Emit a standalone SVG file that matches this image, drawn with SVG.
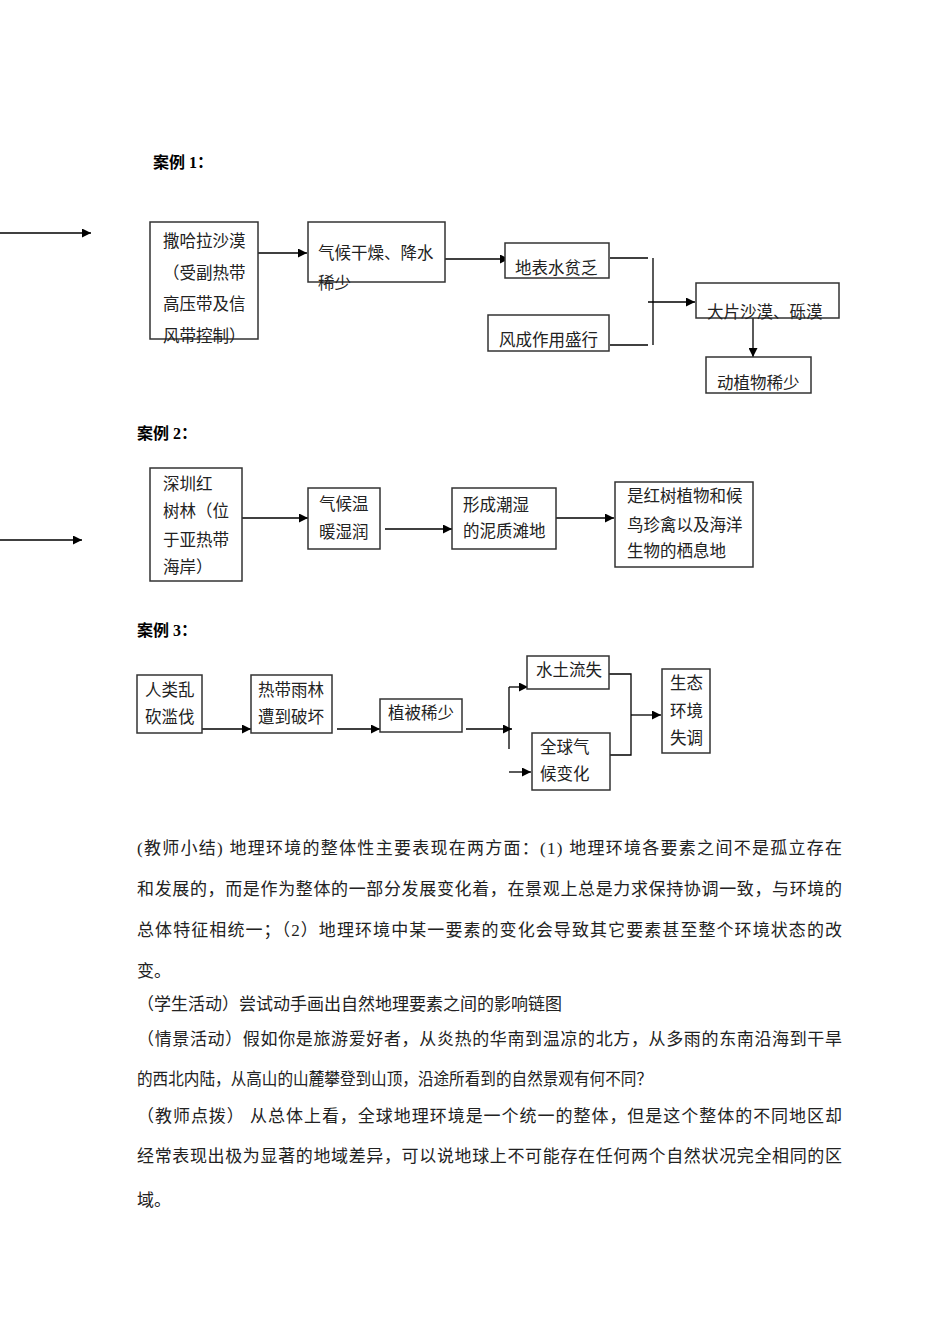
<svg xmlns="http://www.w3.org/2000/svg" width="950" height="1344" viewBox="0 0 950 1344">
<defs>
<marker id="ah" viewBox="0 0 10 10" refX="10" refY="5" markerWidth="11" markerHeight="9" markerUnits="userSpaceOnUse" orient="auto"><path d="M0,0 L10,5 L0,10 z" fill="#000"/></marker>
<style>
text{font-family:"Liberation Serif","Noto Sans CJK SC",serif;font-size:16.5px;fill:#222}
.h{font-weight:bold;font-size:16px;fill:#000}
.p{font-size:17px}
rect{fill:#fff;stroke:#333;stroke-width:1.5}
.c line,.c polyline{stroke:#000;stroke-width:1.3;fill:none}
.a{marker-end:url(#ah)}
</style>
</defs>
<rect x="0" y="0" width="950" height="1344" style="fill:#fff;stroke:none"/>

<text class="h" x="153" y="168">案例 1：</text>
<text class="h" x="137" y="439">案例 2：</text>
<text class="h" x="137" y="636">案例 3：</text>

<g class="c" id="connectors">
<line class="a" x1="0" y1="233" x2="91" y2="233"/>
<line class="a" x1="250" y1="253" x2="307" y2="253"/>
<line class="a" x1="440" y1="259" x2="509" y2="259"/>
<line x1="610" y1="258" x2="648" y2="258"/>
<line x1="610" y1="345" x2="648" y2="345"/>
<line x1="653" y1="258" x2="653" y2="345"/>
<line class="a" x1="648" y1="302" x2="695" y2="302"/>
<line class="a" x1="753" y1="310" x2="753" y2="357"/>

<line class="a" x1="0" y1="540" x2="82" y2="540"/>
<line class="a" x1="242" y1="518" x2="308" y2="518"/>
<line class="a" x1="385" y1="529" x2="452" y2="529"/>
<line class="a" x1="553" y1="518" x2="614" y2="518"/>

<line class="a" x1="202" y1="729" x2="251" y2="729"/>
<line class="a" x1="337" y1="729" x2="380" y2="729"/>
<line class="a" x1="466" y1="729" x2="512" y2="729"/>
<line x1="509" y1="749" x2="509" y2="687"/>
<line class="a" x1="509" y1="687" x2="528" y2="687"/>
<line class="a" x1="509" y1="772" x2="531" y2="772"/>
<polyline points="609,674 631,674 631,755 610,755"/>
<line class="a" x1="631" y1="715" x2="661" y2="715"/>
</g>

<g id="n-sahara"><rect x="150" y="222" width="108" height="117"/>
<text x="163" y="247">撒哈拉沙漠</text><text x="163" y="279">（受副热带</text><text x="163" y="310">高压带及信</text><text x="163" y="342">风带控制）</text></g>
<g id="n-climate1"><rect x="308" y="222" width="137" height="60"/>
<text x="318" y="259">气候干燥、降水</text><text x="318" y="289">稀少</text></g>
<g id="n-water"><rect x="505" y="243" width="104" height="35"/>
<text x="515" y="274">地表水贫乏</text></g>
<g id="n-wind"><rect x="488" y="315" width="121" height="36"/>
<text x="499" y="346">风成作用盛行</text></g>
<g id="n-desert"><rect x="696" y="283" width="143" height="35"/>
<text x="707" y="318">大片沙漠、砾漠</text></g>
<g id="n-fauna"><rect x="706" y="357" width="105" height="36"/>
<text x="717" y="389">动植物稀少</text></g>

<g id="n-mangrove"><rect x="150" y="468" width="92" height="113"/>
<text x="163" y="490">深圳红</text><text x="163" y="517">树林（位</text><text x="163" y="546">于亚热带</text><text x="163" y="573">海岸）</text></g>
<g id="n-climate2"><rect x="308" y="488" width="72" height="61"/>
<text x="319" y="510">气候温</text><text x="319" y="538">暖湿润</text></g>
<g id="n-mudflat"><rect x="452" y="488" width="104" height="61"/>
<text x="463" y="511">形成潮湿</text><text x="463" y="537">的泥质滩地</text></g>
<g id="n-habitat"><rect x="615" y="482" width="138" height="85"/>
<text x="627" y="502">是红树植物和候</text><text x="627" y="531">鸟珍禽以及海洋</text><text x="627" y="557">生物的栖息地</text></g>

<g id="n-logging"><rect x="137" y="675" width="65" height="58"/>
<text x="145" y="696">人类乱</text><text x="145" y="723">砍滥伐</text></g>
<g id="n-rainforest"><rect x="251" y="675" width="81" height="58"/>
<text x="258" y="696">热带雨林</text><text x="258" y="723">遭到破坏</text></g>
<g id="n-vegetation"><rect x="380" y="699" width="82" height="33"/>
<text x="388" y="719">植被稀少</text></g>
<g id="n-erosion"><rect x="527" y="656" width="82" height="33"/>
<text x="536" y="676">水土流失</text></g>
<g id="n-globalclimate"><rect x="532" y="733" width="78" height="57"/>
<text x="540" y="753">全球气</text><text x="540" y="780">候变化</text></g>
<g id="n-eco"><rect x="662" y="669" width="48" height="84"/>
<text x="670" y="689">生态</text><text x="670" y="717">环境</text><text x="670" y="744">失调</text></g>

<g id="paragraphs">
<text class="p" x="137" y="854" textLength="705" lengthAdjust="spacing">(教师小结) 地理环境的整体性主要表现在两方面：(1) 地理环境各要素之间不是孤立存在</text>
<text class="p" x="137" y="895" textLength="705" lengthAdjust="spacing">和发展的，而是作为整体的一部分发展变化着，在景观上总是力求保持协调一致，与环境的</text>
<text class="p" x="137" y="936" textLength="705" lengthAdjust="spacing">总体特征相统一；（2）地理环境中某一要素的变化会导致其它要素甚至整个环境状态的改</text>
<text class="p" x="137" y="977">变。</text>
<text class="p" x="137" y="1010">（学生活动）尝试动手画出自然地理要素之间的影响链图</text>
<text class="p" x="137" y="1045" textLength="705" lengthAdjust="spacing">（情景活动）假如你是旅游爱好者，从炎热的华南到温凉的北方，从多雨的东南沿海到干旱</text>
<text class="p" x="137" y="1085" textLength="515" lengthAdjust="spacingAndGlyphs">的西北内陆，从高山的山麓攀登到山顶，沿途所看到的自然景观有何不同？</text>
<text class="p" x="137" y="1122" textLength="705" lengthAdjust="spacing">（教师点拨） 从总体上看，全球地理环境是一个统一的整体，但是这个整体的不同地区却</text>
<text class="p" x="137" y="1162" textLength="705" lengthAdjust="spacing">经常表现出极为显著的地域差异，可以说地球上不可能存在任何两个自然状况完全相同的区</text>
<text class="p" x="137" y="1206">域。</text>
</g>
</svg>
